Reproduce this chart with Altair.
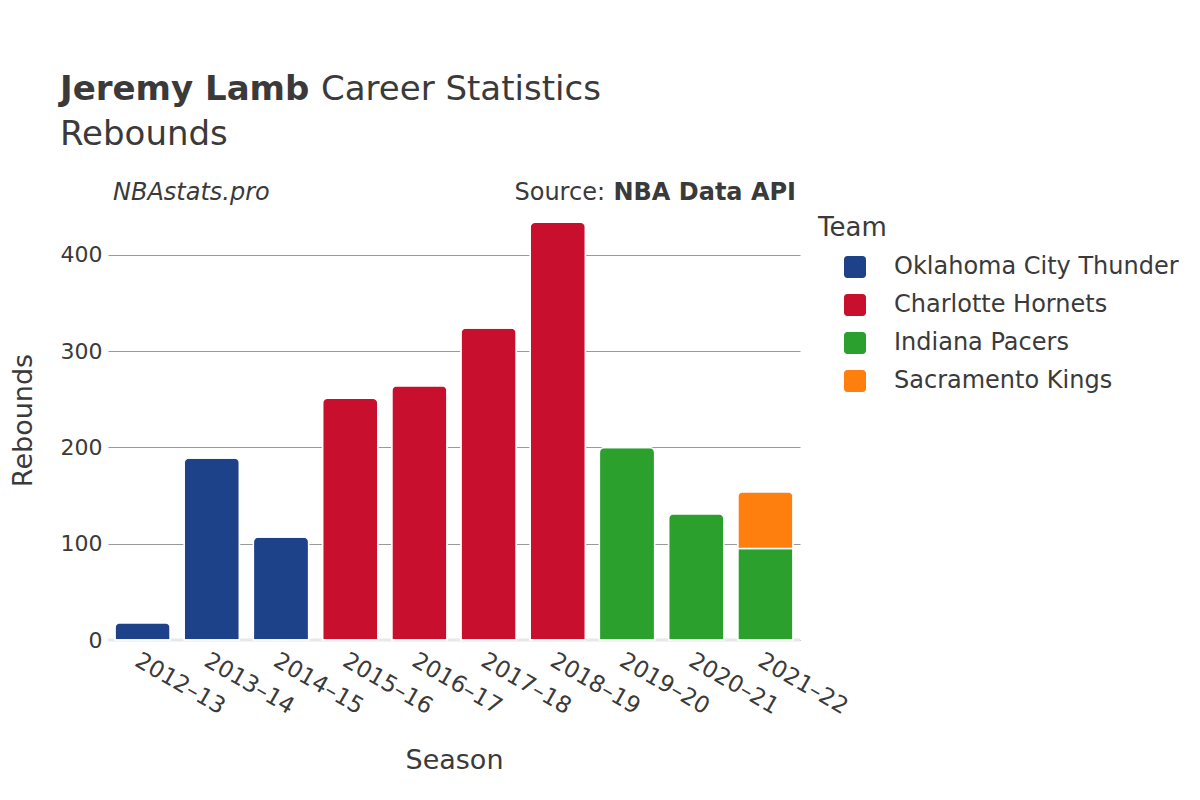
import altair as alt
import pandas as pd

seasons = ["2012–13", "2013–14", "2014–15", "2015–16", "2016–17", "2017–18",
           "2018–19", "2019–20", "2020–21", "2021–22", "2021–22"]
teams = ["Oklahoma City Thunder", "Oklahoma City Thunder", "Oklahoma City Thunder",
         "Charlotte Hornets", "Charlotte Hornets", "Charlotte Hornets", "Charlotte Hornets",
         "Indiana Pacers", "Indiana Pacers", "Indiana Pacers", "Sacramento Kings"]
rebounds = [18, 189, 107, 251, 264, 324, 434, 200, 131, 95, 59]

team_order = ["Oklahoma City Thunder", "Charlotte Hornets", "Indiana Pacers", "Sacramento Kings"]
team_colors = ["#1D428A", "#C8102E", "#2CA02C", "#FF7F0E"]
season_order = ["2012–13", "2013–14", "2014–15", "2015–16", "2016–17", "2017–18",
                "2018–19", "2019–20", "2020–21", "2021–22"]

df = pd.DataFrame({"Season": seasons, "Team": teams, "Rebounds": rebounds})
df["order"] = df["Team"].map({t: i for i, t in enumerate(team_order)})

FONT = "DejaVu Sans"
TXT = "#3a3a3a"
W, H = 692, 440
rounded = "M-0.7,-1H0.7A0.3,0.3 0 0 1 1,-0.7V0.7A0.3,0.3 0 0 1 0.7,1H-0.7A0.3,0.3 0 0 1 -1,0.7V-0.7A0.3,0.3 0 0 1 -0.7,-1Z"

bars = alt.Chart(df).mark_bar(
    cornerRadiusTopLeft=5, cornerRadiusTopRight=5, stroke="white", strokeWidth=1.5
).encode(
    x=alt.X("Season:N", sort=season_order, scale=alt.Scale(paddingInner=0.2, paddingOuter=0.1),
            axis=alt.Axis(title="Season", labelAngle=30, labelAlign="left", labelBaseline="top",
                          labelFontSize=23, titleFontSize=27, titlePadding=29, ticks=False,
                          domain=False, labelPadding=9, labelColor=TXT, titleColor=TXT,
                          titleFont=FONT, labelFont=FONT, titleFontWeight="normal")),
    y=alt.Y("sum(Rebounds):Q", scale=alt.Scale(domain=[0, 457], nice=False),
            axis=alt.Axis(title="Rebounds", values=[0, 100, 200, 300, 400], labelFontSize=22,
                          titleFontSize=27, ticks=False, domain=False, gridColor="#999",
                          gridWidth=1, labelPadding=6, titlePadding=23, labelColor=TXT,
                          titleColor=TXT, titleFont=FONT, labelFont=FONT,
                          titleFontWeight="normal")),
    color=alt.Color("Team:N", scale=alt.Scale(domain=team_order, range=team_colors),
                    legend=alt.Legend(title="Team", orient="none", legendX=710, legendY=15,
                                      titleFontSize=26, labelFontSize=24, titleFont=FONT,
                                      labelFont=FONT, titleColor=TXT, labelColor=TXT,
                                      titleFontWeight="normal", symbolType=rounded,
                                      symbolSize=484, symbolStrokeWidth=0, symbolOffset=25,
                                      labelOffset=27, rowPadding=14, titlePadding=14,
                                      labelLimit=0)),
    order=alt.Order("order:Q"),
)

zero = alt.Chart(pd.DataFrame({"z": [0]})).mark_rule(color="#e8e8e8", strokeWidth=3).encode(
    y=alt.Y("z:Q", scale=alt.Scale(domain=[0, 457], nice=False))
)

def txt(text, x, y, size, weight="normal", style="normal", align="left"):
    return alt.Chart(pd.DataFrame({"t": [text]})).mark_text(
        align=align, baseline="alphabetic", fontSize=size, fontWeight=weight,
        fontStyle=style, font=FONT, color=TXT
    ).encode(x=alt.value(x), y=alt.value(y), text="t:N")

labels = [
    txt("Jeremy Lamb", -48, -100, 34, weight="bold"),
    txt("Career Statistics", 213, -100, 34),
    txt("Rebounds", -48, -55, 34),
    txt("NBAstats.pro", 5, 0, 24, style="italic"),
    txt("Source:", 497, 0, 24, align="right"),
    txt("NBA Data API", 688, 0, 24, weight="bold", align="right"),
]

chart = alt.layer(zero, bars, *labels).properties(
    width=W, height=H,
    autosize=alt.AutoSizeParams(type="none"),
    padding={"left": 100, "top": 192, "right": 392, "bottom": 152},
    background="white",
).configure_view(stroke=None)

chart.save("out.html", embed_options={"renderer": "svg", "actions": False})
